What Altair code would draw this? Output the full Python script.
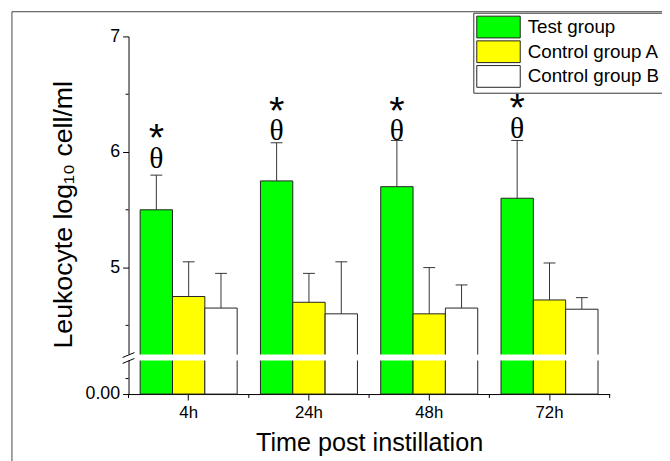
import altair as alt
import pandas as pd

times = ["4h", "24h", "48h", "72h"]
groups = ["Test group", "Control group A", "Control group B"]
colors = ["#00ff00", "#ffff00", "#ffffff"]

test_mean = [5.50, 5.75, 5.70, 5.60]
test_top = [5.80, 6.08, 6.10, 6.10]
ctrl_a_mean = [4.75, 4.70, 4.60, 4.72]
ctrl_a_top = [5.05, 4.95, 5.00, 5.04]
ctrl_b_mean = [4.65, 4.60, 4.65, 4.64]
ctrl_b_top = [4.95, 5.05, 4.85, 4.74]

theta_y = [5.86, 6.10, 6.10, 6.12]     # level of the significance marks

zero_pos = 3.906                      # where "0.00" sits on the broken axis
y_major = [zero_pos, 5, 6, 7]
y_minor = [4.04, 4.5, 5.5, 6.5]
break_lo, break_hi = 4.197, 4.248
slash_y1 = [4.222, 4.171]
slash_y2 = [4.265, 4.214]

W, H = 487, 362

rows = []
for g, means, tops in zip(groups, [test_mean, ctrl_a_mean, ctrl_b_mean],
                          [test_top, ctrl_a_top, ctrl_b_top]):
    for t, m, tp in zip(times, means, tops):
        rows.append({"time": t, "group": g, "mean": m, "top": tp, "base": zero_pos})
df = pd.DataFrame(rows)

ann = pd.DataFrame({"time": times, "group": ["Test group"] * 4, "ty": theta_y})

x_axis = alt.Axis(title="Time post instillation", labelAngle=0, tickSize=6,
                  labelFontSize=17, labelPadding=5, titleFontSize=25.5,
                  titleFontWeight="normal", titleY=57, titleBaseline="alphabetic",
                  domainColor="black", tickColor="black", labelColor="black",
                  titleColor="black", grid=False)
y_axis = alt.Axis(values=y_major,
                  labelExpr="datum.value < 4 ? '0.00' : format(datum.value, 'd')",
                  tickSize=6, labelFontSize=18, labelPadding=3, grid=False,
                  domainColor="black", tickColor="black", labelColor="black",
                  title="Leukocyte log₁₀ cell/ml", titleFontSize=27,
                  titleFontWeight="normal", titleColor="black",
                  titleAngle=270, titleX=-58, titleY=180,
                  titleBaseline="alphabetic", titleAlign="center")

x_scale = alt.Scale(domain=times, paddingInner=0, paddingOuter=0)
x_enc = alt.X("time:N", sort=times, scale=x_scale, axis=x_axis)
xo = alt.XOffset("group:N", sort=groups,
                 scale=alt.Scale(domain=groups, paddingInner=0, paddingOuter=0.36))
y_scale = alt.Scale(domain=[zero_pos, 7], nice=False, zero=False)


def yq(field):
    return alt.Y(field, type="quantitative", scale=y_scale, axis=y_axis)


bars = alt.Chart(df).mark_bar(stroke="#222", strokeWidth=1).encode(
    x=x_enc,
    xOffset=xo,
    y=yq("mean"),
    y2=alt.Y2("base:Q"),
    fill=alt.Fill("group:N", sort=groups,
                  scale=alt.Scale(domain=groups, range=colors),
                  legend=alt.Legend(title=None, orient="none", legendX=349, legendY=-24,
                                    symbolType="M-1,-1H3V1H-1Z", symbolSize=484,
                                    symbolStrokeColor="#222", symbolStrokeWidth=1,
                                    symbolOpacity=1,
                                    labelFontSize=19, labelOffset=29, labelColor="black",
                                    rowPadding=-3, padding=3, strokeColor="#333",
                                    fillColor="white", labelLimit=400)),
)

stems = alt.Chart(df).mark_rule(color="#333", strokeWidth=1).encode(
    x=x_enc, xOffset=xo, y=yq("mean"), y2="top:Q")

caps = alt.Chart(df).mark_tick(color="#333", size=12, thickness=1, opacity=1).encode(
    x=x_enc, xOffset=xo, y=yq("top"))

band = alt.Chart(pd.DataFrame({"lo": [break_lo], "hi": [break_hi]})).mark_rect(
    fill="white").encode(
    x=alt.value(-2), x2=alt.value(W), y=yq("lo"), y2="hi:Q")

slashes = alt.Chart(pd.DataFrame({"a": slash_y1, "b": slash_y2})).mark_rule(
    color="black", strokeWidth=1).encode(
    x=alt.value(-6), x2=alt.value(6), y=yq("a"), y2="b:Q")

yminor = alt.Chart(pd.DataFrame({"v": y_minor})).mark_rule(color="black").encode(
    x=alt.value(-3), x2=alt.value(0), y=yq("v"))

tdf = pd.DataFrame({"time": times})
xminor0 = alt.Chart(tdf).mark_rule(color="black").encode(
    x=alt.X("time:N", sort=times, scale=x_scale, axis=x_axis, bandPosition=0),
    y=alt.value(H), y2=alt.value(H + 4))
xminor1 = alt.Chart(pd.DataFrame({"time": [times[-1]]})).mark_rule(color="black").encode(
    x=alt.X("time:N", sort=times, scale=x_scale, axis=x_axis, bandPosition=1),
    y=alt.value(H), y2=alt.value(H + 4))

theta = alt.Chart(ann).mark_text(text="θ", font="Liberation Serif", fontSize=30,
                                 baseline="alphabetic", align="center", color="black").encode(
    x=x_enc, xOffset=xo, y=yq("ty"))
star = alt.Chart(ann).mark_text(text="*", font="Liberation Sans", fontSize=40,
                                baseline="alphabetic", align="center", dy=-17,
                                color="black").encode(
    x=x_enc, xOffset=xo, y=yq("ty"))

frame = alt.Chart(pd.DataFrame({"a": [0]})).mark_rect(
    fillOpacity=0, stroke="#444", strokeWidth=1).encode(
    x=alt.value(-118), x2=alt.value(800), y=alt.value(-25), y2=alt.value(700))

chart = alt.layer(frame, bars, stems, caps, band, slashes, yminor, xminor0, xminor1,
                  theta, star).properties(
    width=W, height=H,
    autosize=alt.AutoSizeParams(type="none"),
    padding={"left": 122, "top": 26, "right": 53, "bottom": 65},
).configure(font="Liberation Sans").configure_view(stroke=None)

chart.save("out.html", embed_options={"renderer": "svg", "actions": False})
